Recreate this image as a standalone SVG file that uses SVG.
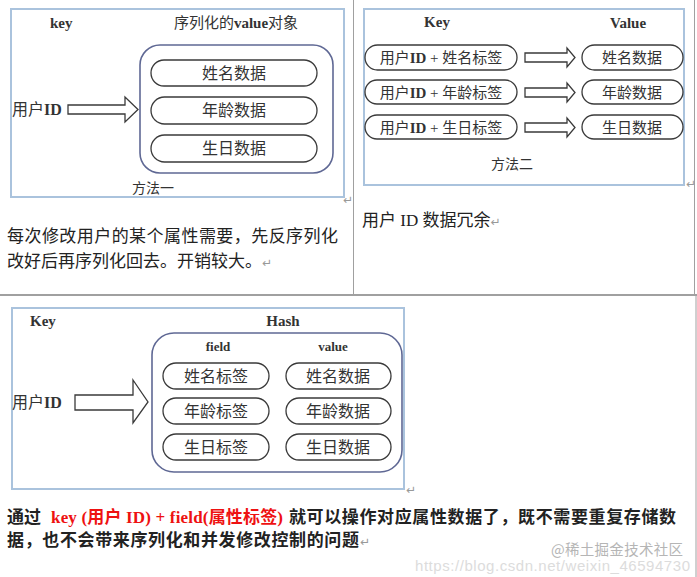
<svg xmlns="http://www.w3.org/2000/svg" width="697" height="577" viewBox="0 0 697 577">
<style>
.frame{fill:#fff;stroke:#aac3dd;stroke-width:2}
.big{fill:none;stroke:#5f6894;stroke-width:1.6}
.pill{fill:#fff;stroke:#3a3a3a;stroke-width:1.3}
.arrow{fill:#fff;stroke:#3a3a3a;stroke-width:1.3}
.t{font-family:"Liberation Serif","Noto Sans CJK SC",serif;fill:#333}
.h{font-weight:bold;font-size:15px}
.p{font-size:16px;text-anchor:middle}
.body{font-family:"Liberation Serif","Noto Sans CJK SC",serif;fill:#222;font-size:17px}
.ret{font-family:"DejaVu Sans",sans-serif;fill:#999;font-size:12px}
.grid{stroke:#a0a0a0;fill:none}
</style>
<rect width="697" height="577" fill="#fff"/>
<g id="table" class="grid">
<line x1="353.5" y1="0" x2="353.5" y2="295"/>
<line x1="694.5" y1="0" x2="694.5" y2="295"/>
<line x1="0" y1="295" x2="697" y2="295" stroke-width="2"/>
<line x1="696" y1="296" x2="696" y2="577"/>
</g>

<g id="method1">
<rect class="frame" x="11" y="9" width="333" height="188"/>
<text class="t h" x="50" y="28">key</text>
<text class="t" x="236" y="28" font-size="15" text-anchor="middle">序列化的<tspan font-weight="bold">value</tspan>对象</text>
<rect class="big" x="140" y="45" width="193" height="128" rx="20"/>
<g id="m1-name"><rect class="pill" x="151" y="60" width="166" height="26" rx="13"/><text class="t p" x="234" y="79">姓名数据</text></g>
<g id="m1-age"><rect class="pill" x="151" y="97" width="166" height="27" rx="13.5"/><text class="t p" x="234" y="116">年龄数据</text></g>
<g id="m1-birth"><rect class="pill" x="151" y="135" width="166" height="27" rx="13.5"/><text class="t p" x="234" y="154">生日数据</text></g>
<text class="t" x="12" y="115" font-size="16">用户<tspan font-weight="bold">ID</tspan></text>
<text class="t" x="153" y="193" font-size="14" text-anchor="middle">方法一</text>
</g>

<g id="method2">
<rect class="frame" x="364" y="9" width="320" height="176"/>
<text class="t h" x="437" y="27" text-anchor="middle">Key</text>
<text class="t h" x="628" y="28" text-anchor="middle">Value</text>
<g id="m2-k1"><rect class="pill" x="365" y="45" width="152" height="25" rx="12.5"/><text class="t" x="441" y="63" font-size="15" text-anchor="middle">用户<tspan font-weight="bold">ID</tspan> + 姓名标签</text></g>
<g id="m2-k2"><rect class="pill" x="365" y="80" width="152" height="24" rx="12"/><text class="t" x="441" y="98" font-size="15" text-anchor="middle">用户<tspan font-weight="bold">ID</tspan> + 年龄标签</text></g>
<g id="m2-k3"><rect class="pill" x="365" y="115" width="152" height="24" rx="12"/><text class="t" x="441" y="133" font-size="15" text-anchor="middle">用户<tspan font-weight="bold">ID</tspan> + 生日标签</text></g>
<g id="m2-v1"><rect class="pill" x="582" y="45" width="101" height="25" rx="12.5"/><text class="t" x="632" y="63" font-size="15" text-anchor="middle">姓名数据</text></g>
<g id="m2-v2"><rect class="pill" x="582" y="80" width="101" height="24" rx="12"/><text class="t" x="632" y="98" font-size="15" text-anchor="middle">年龄数据</text></g>
<g id="m2-v3"><rect class="pill" x="582" y="115" width="101" height="24" rx="12"/><text class="t" x="632" y="133" font-size="15" text-anchor="middle">生日数据</text></g>
<text class="t" x="512" y="169" font-size="14" text-anchor="middle">方法二</text>
</g>

<g id="method3">
<rect class="frame" x="12" y="308" width="392" height="181"/>
<text class="t h" x="30" y="326">Key</text>
<text class="t h" x="283" y="326" text-anchor="middle">Hash</text>
<rect class="big" x="152" y="333" width="250" height="139" rx="22"/>
<text class="t" x="218" y="351" font-size="13" font-weight="bold" text-anchor="middle">field</text>
<text class="t" x="333" y="351" font-size="13" font-weight="bold" text-anchor="middle">value</text>
<g id="m3-f1"><rect class="pill" x="163" y="363" width="106" height="26" rx="13"/><text class="t p" x="216" y="382">姓名标签</text></g>
<g id="m3-f2"><rect class="pill" x="163" y="398" width="106" height="26" rx="13"/><text class="t p" x="216" y="417">年龄标签</text></g>
<g id="m3-f3"><rect class="pill" x="163" y="434" width="106" height="26" rx="13"/><text class="t p" x="216" y="453">生日标签</text></g>
<g id="m3-v1"><rect class="pill" x="286" y="363" width="105" height="26" rx="13"/><text class="t p" x="338" y="382">姓名数据</text></g>
<g id="m3-v2"><rect class="pill" x="286" y="398" width="105" height="26" rx="13"/><text class="t p" x="338" y="417">年龄数据</text></g>
<g id="m3-v3"><rect class="pill" x="286" y="434" width="105" height="26" rx="13"/><text class="t p" x="338" y="453">生日数据</text></g>
<text class="t" x="12" y="408" font-size="16">用户<tspan font-weight="bold">ID</tspan></text>
</g>

<g id="connectors">
<polygon class="arrow" points="68,105 125,105 125,97 138,109.5 125,122 125,114 68,114"/>
<polygon class="arrow" points="525,53 567,53 567,48 575,57.5 567,67 567,62 525,62"/>
<polygon class="arrow" points="525,88 567,88 567,83 575,92.5 567,102 567,97 525,97"/>
<polygon class="arrow" points="525,123 567,123 567,118 575,127.5 567,137 567,132 525,132"/>
<polygon class="arrow" points="75,395 133,395 133,380 148,402 133,423 133,410 75,410"/>
</g>

<g id="notes">
<text class="ret" x="343" y="204">↵</text>
<text class="ret" x="686" y="188">↵</text>
<text class="ret" x="406" y="494">↵</text>
<text class="body" x="7" y="242" textLength="331">每次修改用户的某个属性需要，先反序列化</text>
<text class="body" x="7" y="267">改好后再序列化回去。开销较大。<tspan class="ret" font-size="14">↵</tspan></text>
<text class="body" x="362" y="226">用户 ID 数据冗余<tspan class="ret" font-size="14">↵</tspan></text>
<text class="body" font-weight="bold" y="523" font-size="17"><tspan x="7">通过</tspan><tspan x="51" fill="#e11" textLength="232">key (用户 ID) + field(属性标签)</tspan><tspan x="289" textLength="387">就可以操作对应属性数据了，既不需要重复存储数</tspan></text>
<text class="body" font-weight="bold" x="7" y="546" font-size="17" textLength="352">据，也不会带来序列化和并发修改控制的问题</text>
<text class="ret" x="360" y="546" font-size="13">↵</text>
<text x="415" y="571" font-family="Liberation Sans, sans-serif" font-size="15" fill="#dcdcdc" textLength="275">https://blog.csdn.net/weixin_46594730</text>
<text x="551" y="555" font-family="Noto Sans CJK SC, sans-serif" font-size="14.5" fill="#b5b5b5" textLength="132">@稀土掘金技术社区</text>
</g>
</svg>
